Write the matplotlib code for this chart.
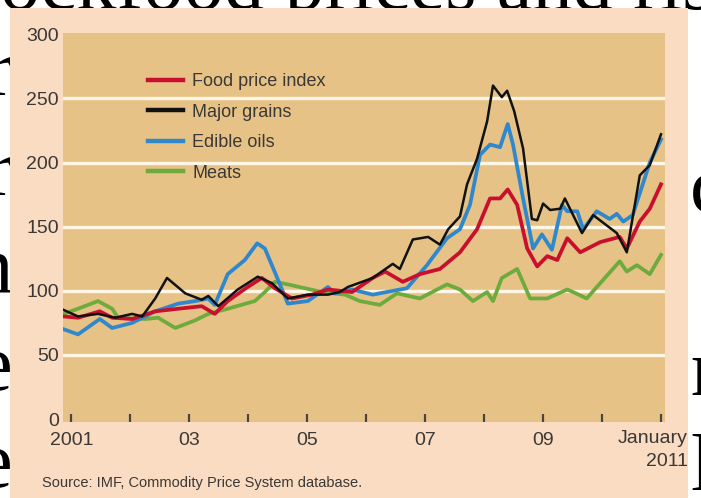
import matplotlib
matplotlib.use("Agg")
import matplotlib.pyplot as plt
from matplotlib.patches import Rectangle

# series (decimal years, index values)
food_t = [2000.87, 2001.11, 2001.48, 2001.69, 2002.03, 2002.42, 2002.81, 2003.21, 2003.43, 2003.65,
          2003.99, 2004.23, 2004.45, 2004.74, 2005.08, 2005.35, 2005.76, 2006.11, 2006.32, 2006.62,
          2006.91, 2007.25, 2007.59, 2007.88, 2008.10, 2008.27, 2008.40, 2008.56, 2008.73, 2008.90,
          2009.07, 2009.24, 2009.41, 2009.63, 2009.97, 2010.30, 2010.42, 2010.64, 2010.81, 2011.0]
food_v = [80, 79, 84, 79, 78, 84, 86, 88, 82, 92,
          103, 110, 102, 94, 97, 101, 99, 110, 115, 107,
          113, 117, 130, 148, 172, 172, 179, 167, 133, 119,
          127, 124, 141, 130, 138, 142, 133, 154, 164, 183]

grains_t = [2000.87, 2001.11, 2001.45, 2001.74, 2002.03, 2002.20, 2002.42, 2002.62, 2002.93, 2003.21,
            2003.32, 2003.49, 2003.82, 2004.16, 2004.40, 2004.67, 2005.01, 2005.35, 2005.55, 2005.69,
            2006.11, 2006.45, 2006.57, 2006.79, 2007.05, 2007.25, 2007.39, 2007.59, 2007.71, 2007.88,
            2008.05, 2008.15, 2008.30, 2008.39, 2008.51, 2008.66, 2008.81, 2008.90, 2009.00, 2009.12,
            2009.29, 2009.37, 2009.66, 2009.85, 2010.25, 2010.42, 2010.64, 2010.81, 2011.0]
grains_v = [85, 80, 82, 79, 82, 80, 94, 110, 98, 93,
            96, 88, 101, 111, 106, 94, 97, 97, 99, 103,
            110, 121, 117, 140, 142, 136, 148, 158, 183, 203,
            232, 260, 251, 256, 240, 211, 156, 155, 168, 163,
            164, 172, 145, 159, 145, 130, 190, 198, 222]

oils_t = [2000.87, 2001.11, 2001.48, 2001.69, 2002.03, 2002.42, 2002.81, 2003.10, 2003.32, 2003.43,
          2003.65, 2003.94, 2004.15, 2004.28, 2004.49, 2004.67, 2005.01, 2005.35, 2005.47, 2005.76,
          2006.11, 2006.69, 2007.03, 2007.37, 2007.59, 2007.76, 2007.93, 2008.10, 2008.27, 2008.40,
          2008.49, 2008.66, 2008.83, 2008.98, 2009.15, 2009.32, 2009.41, 2009.58, 2009.68, 2009.91,
          2010.13, 2010.25, 2010.36, 2010.52, 2010.69, 2010.81, 2011.0]
oils_v = [70, 66, 78, 71, 75, 84, 90, 92, 94, 89,
          113, 124, 137, 133, 110, 90, 92, 103, 98, 101,
          97, 102, 120, 141, 148, 167, 206, 214, 212, 230,
          214, 172, 133, 144, 132, 167, 162, 162, 148, 162,
          156, 160, 154, 159, 183, 200, 218]

meats_t = [2000.87, 2001.11, 2001.45, 2001.69, 2001.79, 2002.25, 2002.47, 2002.76, 2003.10, 2003.32,
           2003.65, 2004.11, 2004.28, 2004.45, 2004.67, 2004.96, 2005.25, 2005.64, 2005.89, 2006.23,
           2006.52, 2006.91, 2007.37, 2007.59, 2007.81, 2008.05, 2008.15, 2008.30, 2008.56, 2008.78,
           2009.07, 2009.41, 2009.51, 2009.74, 2009.97, 2010.30, 2010.42, 2010.59, 2010.81, 2011.0]
meats_v = [82, 86, 92, 86, 79, 78, 79, 71, 77, 82,
           86, 92, 99, 107, 105, 102, 99, 97, 92, 89,
           98, 94, 105, 101, 92, 99, 92, 110, 117, 94,
           94, 101, 99, 94, 106, 123, 115, 120, 113, 128]

year_ticks = list(range(2001, 2012))
year_labels = ["2001", "", "03", "", "05", "", "07", "", "09", "", ""]
y_ticks = [0, 50, 100, 150, 200, 250, 300]

W, H = 701, 498
fig = plt.figure(figsize=(W / 100, H / 100), dpi=100)
fig.patch.set_facecolor("white")

# slide text peeking out around the pasted chart
serif = dict(family="Liberation Serif", color="black", fontsize=58, zorder=0)
fig.text(0.0, 1 - 9 / H, "ockfood prices and rising", va="baseline", **serif)
for ypx, ch in [(95, "r"), (195, "r"), (292, "n"), (390, "e"), (487, "e")]:
    fig.text(12 / W, 1 - ypx / H, ch, ha="right", va="baseline", **serif)
for ypx, ch in [(212, "c"), (395, "r"), (490, "l")]:
    fig.text(690 / W, 1 - ypx / H, ch, ha="left", va="baseline", **serif)

fig.patches.append(Rectangle((10 / W, 0), 678 / W, 1 - 8 / H, transform=fig.transFigure,
                             facecolor="#f9dcc2", edgecolor="none", zorder=1))

ax = fig.add_axes([63 / W, 76 / H, 602 / W, 389 / H])
ax.set_zorder(2)
ax.set_facecolor("#e6c287")
for s in ax.spines.values():
    s.set_visible(False)

for g in y_ticks[1:-1]:
    ax.axhline(g, color="#fff6e6", lw=2.4, zorder=1)

ax.plot(meats_t, meats_v, color="#6dab3c", lw=2.7, label="Meats", zorder=3)
ax.plot(oils_t, oils_v, color="#2f88cc", lw=2.7, label="Edible oils", zorder=4)
ax.plot(food_t, food_v, color="#c8102e", lw=2.7, label="Food price index", zorder=5)
ax.plot(grains_t, grains_v, color="#111111", lw=1.8, label="Major grains", zorder=6)

ax.set_xlim(2000.856, 2011.068)
ax.set_ylim(-2.3, 301)

txt = "#3b3835"
ax.set_yticks(y_ticks)
ax.set_yticklabels([str(v) for v in y_ticks])
ax.tick_params(axis="y", length=0, pad=3, labelsize=14, labelcolor=txt)
ax.set_xticks(year_ticks)
ax.set_xticklabels(year_labels)
ax.tick_params(axis="x", direction="in", length=6, width=1.6, color="#4a4540",
               pad=7, labelsize=14, labelcolor=txt)
for lab in ax.get_xticklabels() + ax.get_yticklabels():
    lab.set_family("Liberation Sans")

ax.annotate("January\n2011", xy=(2011, 0), xycoords=("data", "axes fraction"),
            xytext=(27, -8), textcoords="offset pixels", ha="right", va="top",
            multialignment="right", fontsize=14, color=txt, family="Liberation Sans",
            linespacing=1.45, annotation_clip=False)

h, l = ax.get_legend_handles_labels()
order = ["Food price index", "Major grains", "Edible oils", "Meats"]
hh = [h[l.index(o)] for o in order]
leg = ax.legend(hh, order, loc="upper left", bbox_to_anchor=(0.141, 0.897), frameon=False,
                borderpad=0, borderaxespad=0, handlelength=1.95, handletextpad=0.5,
                labelspacing=0.75, prop={"family": "Liberation Sans", "size": 13})
for t in leg.get_texts():
    t.set_color(txt)
for ln in leg.get_lines():
    ln.set_linewidth(3.2)

fig.text(42 / W, 1 - 483 / H, "Source: IMF, Commodity Price System database.",
         va="center", ha="left", fontsize=10.5, color=txt, family="Liberation Sans", zorder=3)

fig.savefig("out.png", dpi=100)
